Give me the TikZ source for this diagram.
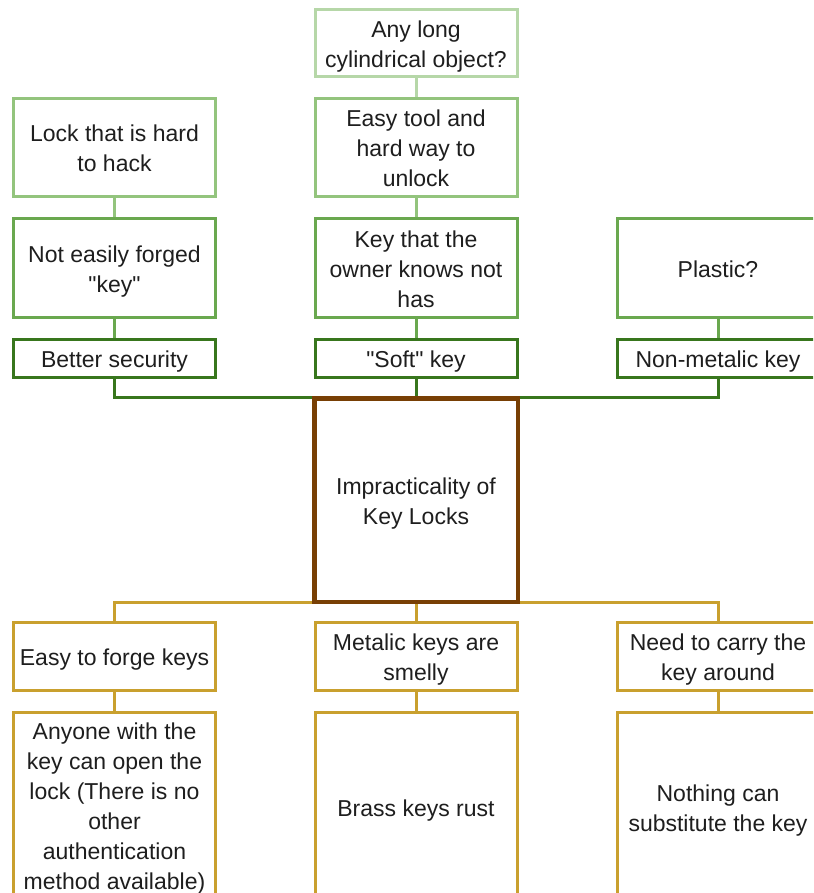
\documentclass[tikz,border=0pt]{standalone}
\usepackage{fontspec}
\setmainfont{Liberation Sans}
\definecolor{gA}{HTML}{B6D7A8}
\definecolor{gB}{HTML}{93C47D}
\definecolor{gC}{HTML}{6AA84F}
\definecolor{gD}{HTML}{38761D}
\definecolor{brn}{HTML}{783F04}
\definecolor{gld}{HTML}{C9A02E}
\definecolor{txt}{HTML}{1E1E1E}
\newcommand\bt[1]{\raisebox{-3pt}[\height][\depth]{\begin{tabular}{@{}c@{}}#1\end{tabular}}}
\newcommand\btup[1]{\raisebox{-1.5pt}[\height][\depth]{\begin{tabular}{@{}c@{}}#1\end{tabular}}}
\tikzset{
  box/.style={draw, line width=3pt, fill=white, rectangle, minimum width=202pt, inner sep=0pt,
    text=txt, font=\fontsize{23}{30}\selectfont},
  conn/.style={line width=3pt}
}
\begin{document}
\begin{tikzpicture}[x=1pt,y=-1pt]
\useasboundingbox (0,0) rectangle (813,893);
\clip (0,0) rectangle (813,893);
\node[box, draw=gA, minimum height=67pt] (any) at (416,43.5) {\bt{Any long\\cylindrical object?}};
\node[box, draw=gB, minimum height=98pt] (easy) at (416,148) {\bt{Easy tool and\\hard way to\\unlock}};
\node[box, draw=gB, minimum height=98pt] (lock) at (114.5,148) {\bt{Lock that is hard\\to hack}};
\node[box, draw=gC, minimum height=98pt] (forged) at (114.5,268) {\bt{Not easily forged\\\textquotedbl key\textquotedbl}};
\node[box, draw=gC, minimum height=98pt] (knows) at (416,268) {\bt{Key that the\\owner knows not\\has}};
\node[box, draw=gC, minimum height=98pt] (plastic) at (718,268) {\bt{Plastic?}};
\node[box, draw=gD, minimum height=38pt] (better) at (114.5,358) {\bt{Better security}};
\node[box, draw=gD, minimum height=38pt] (soft) at (416,358) {\bt{\textquotedbl Soft\textquotedbl{} key}};
\node[box, draw=gD, minimum height=38pt] (nonmet) at (718,358) {\bt{Non-metalic key}};
\node[box, draw=brn, minimum height=202pt] (center) at (416,500) {\bt{Impracticality of\\Key Locks}};
\node[box, draw=gld, minimum height=68pt] (forge) at (114.5,656) {\bt{Easy to forge keys}};
\node[box, draw=gld, minimum height=68pt] (smelly) at (416,656) {\bt{Metalic keys are\\smelly}};
\node[box, draw=gld, minimum height=68pt] (carry) at (718,656) {\bt{Need to carry the\\key around}};
\node[box, draw=gld, minimum height=190pt] (anyone) at (114.5,807) {\btup{Anyone with the\\key can open the\\lock (There is no\\other\\authentication\\method available)}};
\node[box, draw=gld, minimum height=190pt] (brass) at (416,807) {\bt{Brass keys rust}};
\node[box, draw=gld, minimum height=190pt] (nothing) at (718,807) {\bt{Nothing can\\substitute the key}};
\draw[conn, gA] (any.south) -- (easy.north);
\draw[conn, gB] (easy.south) -- (knows.north);
\draw[conn, gB] (lock.south) -- (forged.north);
\draw[conn, gC] (forged.south) -- (better.north);
\draw[conn, gC] (knows.south) -- (soft.north);
\draw[conn, gC] (plastic.south) -- (nonmet.north);
\draw[conn, gD] (better.south) |- (center.north);
\draw[conn, gD] (nonmet.south) |- (center.north);
\draw[conn, gD] (soft.south) -- (center.north);
\draw[conn, gld] (center.south) -| (forge.north);
\draw[conn, gld] (center.south) -| (carry.north);
\draw[conn, gld] (center.south) -- (smelly.north);
\draw[conn, gld] (forge.south) -- (anyone.north);
\draw[conn, gld] (smelly.south) -- (brass.north);
\draw[conn, gld] (carry.south) -- (nothing.north);
\draw[line width=3pt, brn] (center.north west) rectangle (center.south east);
\end{tikzpicture}
\end{document}
